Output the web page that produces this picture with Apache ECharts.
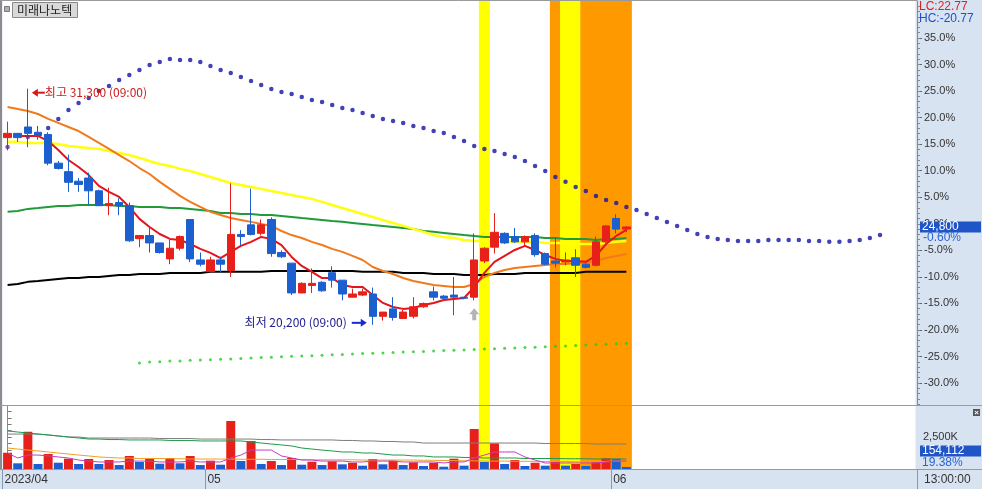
<!DOCTYPE html>
<html><head><meta charset="utf-8">
<script src="https://cdn.jsdelivr.net/npm/echarts@6/dist/echarts.min.js"></script>
<style>html,body{margin:0;padding:0;background:#fff}#c{width:982px;height:489px}</style>
</head><body><div id="c"></div>
<script>
// ---------------- data ----------------
const BASE = 24950;            // reference price for % scale
const SLOTS = 90;              // category slots across plot width
const opens  = [29000,29200,29500,29250,29150,27800,27400,26950,27100,26500,25800,25950,25800,24250,24400,24050,23300,23800,25150,23250,22700,23250,22750,24450,24900,24500,25150,23600,23100,21700,22050,22200,22650,22300,21500,21600,21650,20600,20950,20500,20600,21050,21750,21550,21600,21500,21500,23200,23850,24500,24350,24100,24400,23550,23200,23150,23350,23050,23000,24100,25200,24700];
const closes = [29200,29000,29200,29100,27800,27550,26900,26800,26500,25800,25900,25800,24150,24400,24050,23600,23800,24350,23300,23050,23250,23050,24450,24350,24450,24900,23550,23400,21700,22150,22150,21800,22300,21650,21650,21750,20600,20800,20550,20800,21050,21200,21500,21450,21500,21450,23250,23800,24550,24050,24100,24350,23500,23050,23100,23250,23000,22900,24100,24850,24700,24800];
const highs  = [29750,29200,31300,29550,29250,27900,28200,27100,27350,26550,26650,26150,25950,24400,24750,24050,24200,24400,25150,23600,23400,23400,26850,24650,26600,25150,25250,23700,23100,22200,22850,22250,22950,22300,21900,21900,21950,20800,21500,20900,21500,21250,22000,21600,22450,21500,24500,23850,25450,24550,24750,24400,24500,23600,24300,23600,23750,23100,24350,24900,25400,24850];
const lows   = [28400,28800,28550,28900,27700,27500,26450,26450,25850,25800,25350,25350,24100,23850,23600,23550,23050,23700,23150,22950,22700,22650,22450,23950,24400,24400,23400,23350,21600,21700,21700,21750,21950,21350,21500,21550,20200,20400,20400,20500,20500,21000,21350,21350,20650,21400,21350,23100,23550,24000,24050,23950,23400,23000,22900,23000,22450,22850,22950,24050,24500,24550];
const volumes = [1270000,445000,2910000,390000,1170000,490000,805000,390000,780000,390000,700000,310000,1015000,545000,805000,415000,860000,445000,1015000,310000,650000,335000,3750000,625000,2185000,390000,625000,310000,860000,335000,570000,310000,600000,365000,490000,260000,780000,365000,650000,310000,520000,235000,490000,180000,805000,260000,3125000,545000,2005000,390000,700000,235000,490000,260000,545000,260000,390000,235000,545000,835000,805000,154112];

const maRed    = [null,29080,29080,29080,28840,28420,27950,27620,27240,26730,26450,26210,25740,25180,24800,24470,24240,24190,24000,23770,23580,23340,23630,23910,24100,24330,24240,23950,23390,22970,22690,22400,22400,22070,21980,21980,21600,21230,21040,20950,20990,21130,21230,21370,21420,21460,21980,22640,23160,23440,23720,23910,23720,23480,23300,23200,23200,23160,23440,24000,24380,24660];
const maOrange = [30440,30350,30250,30110,29880,29690,29500,29310,29030,28750,28470,28180,27900,27570,27290,26920,26590,26260,25980,25740,25510,25360,25220,25130,25040,24940,24850,24610,24420,24280,24100,23950,23770,23630,23440,23250,22920,22730,22590,22400,22260,22170,22070,22030,21980,21980,22120,22450,22640,22780,22870,22920,22970,23010,23060,23060,23110,23110,23200,23340,23440,23530];
const maYellow = [28800,28800,28750,28750,28750,28700,28610,28560,28510,28470,28370,28280,28180,28040,27900,27760,27670,27530,27430,27290,27150,27010,26870,26770,26680,26590,26490,26400,26300,26210,26120,25980,25830,25690,25550,25410,25270,25130,24990,24850,24710,24570,24420,24330,24280,24190,24140,24140,24140,24100,24100,24100,24100,24050,24050,24050,24000,24000,24000,24050,24100,24140];
const maGreen  = [25510,25550,25650,25690,25740,25790,25790,25830,25830,25830,25830,25790,25790,25740,25740,25740,25690,25690,25650,25600,25550,25460,25460,25410,25410,25360,25360,25320,25270,25220,25180,25130,25080,25040,24990,24940,24890,24850,24800,24750,24710,24610,24570,24520,24470,24420,24380,24330,24330,24330,24330,24330,24330,24280,24280,24240,24240,24240,24190,24240,24240,24280];
const maBlack  = [22070,22120,22220,22260,22310,22360,22400,22400,22450,22450,22500,22540,22540,22590,22590,22590,22640,22640,22640,22640,22690,22690,22690,22690,22690,22690,22730,22730,22730,22730,22730,22730,22730,22730,22730,22690,22690,22690,22690,22640,22640,22640,22590,22590,22590,22540,22540,22540,22590,22590,22590,22640,22640,22640,22640,22640,22640,22690,22690,22690,22690,22690];

// leading dotted line (shifted forward, extends past last candle)
const blueDots = [null,null,null,null,29450,29880,30300,30630,30860,31190,31430,31710,31940,32180,32410,32560,32700,32650,32650,32560,32370,32180,32040,31850,31660,31470,31290,31150,31050,30910,30770,30680,30530,30390,30300,30160,30020,29880,29780,29690,29550,29450,29310,29220,29030,28840,28610,28470,28370,28230,28090,27900,27670,27430,27150,26920,26680,26490,26260,26070,25930,25740,25600,25410,25220,25030,24850,24660,24470,24330,24240,24190,24140,24140,24140,24190,24190,24190,24190,24140,24140,24100,24100,24140,24190,24280,24420];
const purpleDots = [[0,28560],[2,29030]];
const greenDots = [null,null,null,null,null,null,null,null,null,null,null,null,null,18410,18450,18460,18500,18500,18530,18550,18560,18580,18600,18620,18640,18660,18680,18700,18720,18740,18750,18770,18790,18810,18830,18850,18860,18880,18900,18920,18940,18950,18970,18990,19000,19020,19040,19060,19080,19100,19110,19130,19150,19170,19190,19210,19230,19250,19270,19290,19310,19340];

// volume moving averages (thousand shares)
const volMaGray    = [2730,2730,2730,2730,2660,2580,2500,2500,2420,2420,2420,2420,2420,2420,2420,2380,2380,2380,2380,2340,2340,2340,2340,2340,2340,2300,2300,2270,2270,2270,2270,2270,2270,2230,2230,2190,2190,2150,2150,2110,2110,2030,2030,2030,2030,2030,2030,2030,2030,2030,2030,2030,2030,1990,1990,1990,1990,1990,1950,1950,1950,1950];
const volMaGreen   = [2970,2890,2810,2730,2660,2580,2500,2420,2340,2340,2300,2300,2270,2270,2270,2270,2230,2230,2230,2190,2190,2190,2190,2190,2110,2030,1950,1880,1800,1640,1560,1480,1410,1330,1330,1250,1250,1170,1090,1090,1020,1020,940,940,940,900,900,860,860,860,860,820,820,820,820,800,800,800,780,780,780,780];
const volMaOrange  = [1640,1560,1480,1410,1330,1250,1170,1090,1020,940,900,860,860,820,820,820,800,800,780,780,780,780,780,760,760,760,740,740,740,740,720,720,720,720,720,700,700,700,700,700,700,680,680,660,660,640,640,620,620,620,600,600,600,580,580,580,560,560,560,600,620,640];
const volMaMagenta = [1250,860,1090,1090,1020,940,860,700,620,550,550,550,620,620,620,550,550,550,620,550,550,550,860,1090,1480,1480,1480,1020,860,700,700,620,620,620,550,550,620,620,620,550,550,550,550,470,550,550,860,1090,1330,1330,1330,940,700,470,470,470,470,470,470,550,620,620];

const pctTicks = [-30,-25,-20,-15,-10,-5,0,5,10,15,20,25,30,35];
const volTicks = [2500000];
const monthTicks = [{slot:0,label:'2023/04'},{slot:20,label:'05'},{slot:60,label:'06'}];
const yellowBands = [47,55,56];
const orangeBands = [54,57,58,59,60,61];

// ---------------- layout constants ----------------
const GL = 2.5, GW = 913;           // grid left / width
const PCT_MAX = 41.97, PCT_MIN = -34.14;
const VOL_MAX = 4921875;
const RED = '#e8201a', BLUE = '#1c5fcf';
const SLOT_W = GW / SLOTS;

const pct = p => (p == null ? null : (p / BASE - 1) * 100);
const cats = Array.from({length: SLOTS}, (_, i) => String(i));

const bandData = cats.map((_, i) => {
  if (yellowBands.includes(i)) return {value: 1, itemStyle: {color: '#ffff00'}};
  if (orangeBands.includes(i)) return {value: 1, itemStyle: {color: '#ff9900'}};
  return null;
});
const candleData = opens.map((o, i) => [pct(o), pct(closes[i]), pct(lows[i]), pct(highs[i])]);
const volData = volumes.map((v, i) => ({
  value: v,
  itemStyle: {color: (i === 0 || v >= volumes[i - 1]) ? RED : BLUE}
}));
const minorPct = [];
for (let v = -34; v <= 41; v++) minorPct.push(v);

const lineS = (data, color, width) => ({
  type: 'line', xAxisIndex: 0, yAxisIndex: 0, data: data.map(pct),
  showSymbol: false, symbol: 'none', silent: true, z: 3,
  lineStyle: {color, width}, connectNulls: false
});
const volLine = (data, color) => ({
  type: 'line', xAxisIndex: 1, yAxisIndex: 3, data: data.map(v => v * 1000),
  showSymbol: false, symbol: 'none', silent: true, z: 4, lineStyle: {color, width: 1}
});

const chart = echarts.init(document.getElementById('c'), null, {renderer: 'canvas', width: 982, height: 489});
const FONT = 'Liberation Sans';

chart.setOption({
  animation: false,
  backgroundColor: '#d8e3f1',
  grid: [
    {left: GL, top: 1, width: GW, height: 404, show: true, backgroundColor: '#ffffff', borderWidth: 0},
    {left: GL, top: 406, width: GW, height: 63, show: true, backgroundColor: '#ffffff', borderWidth: 0}
  ],
  xAxis: [
    {type: 'category', gridIndex: 0, data: cats, boundaryGap: true, show: false},
    {type: 'category', gridIndex: 1, data: cats, boundaryGap: true, show: false},
    {type: 'category', gridIndex: 0, data: cats, boundaryGap: true, show: false},
    {type: 'category', gridIndex: 1, data: cats, boundaryGap: true, show: false},
    {type: 'value', gridIndex: 1, min: -0.5, max: SLOTS - 0.5, position: 'bottom',
     axisLine: {show: false}, splitLine: {show: false},
     axisTick: {show: true, length: 20, customValues: monthTicks.map(m => m.slot - 0.5),
                lineStyle: {color: '#8898b0', width: 1}},
     axisLabel: {show: true, customValues: monthTicks.map(m => m.slot - 0.5), align: 'left',
                 margin: 5, color: '#333', fontFamily: FONT, fontSize: 12, padding: [0, 0, 0, 2],
                 formatter: v => { const m = monthTicks.find(t => Math.abs(t.slot - 0.5 - v) < 0.01); return m ? m.label : ''; }}}
  ],
  yAxis: [
    {type: 'value', gridIndex: 0, position: 'right', offset: 1.5, min: PCT_MIN, max: PCT_MAX,
     splitLine: {show: false},
     axisLine: {show: true, lineStyle: {color: '#8a8a8a'}},
     axisTick: {show: true, length: 5, customValues: pctTicks, lineStyle: {color: '#666'}},
     axisLabel: {show: true, customValues: pctTicks, margin: 7, color: '#333', fontFamily: FONT, fontSize: 11,
                 formatter: v => v.toFixed(1) + '%'}},
    {type: 'value', gridIndex: 0, position: 'right', offset: 1.5, min: PCT_MIN, max: PCT_MAX,
     splitLine: {show: false}, axisLine: {show: false}, axisLabel: {show: false},
     axisTick: {show: true, length: 3, customValues: minorPct, lineStyle: {color: '#888'}}},
    {type: 'value', gridIndex: 0, min: 0, max: 1, show: false},
    {type: 'value', gridIndex: 1, position: 'right', offset: 1.5, min: 0, max: VOL_MAX,
     splitLine: {show: false},
     axisLine: {show: true, lineStyle: {color: '#8a8a8a'}},
     axisTick: {show: true, length: 4, lineStyle: {color: '#777'},
                customValues: [0,500000,1000000,1500000,2000000,2500000,3000000,3500000,4000000,4500000]},
     axisLabel: {show: true, customValues: volTicks, margin: 6, color: '#333', fontFamily: FONT, fontSize: 11,
                 formatter: v => (v / 1000).toLocaleString('en-US') + 'K'}},
    {type: 'value', gridIndex: 1, min: 0, max: 1, show: false}
  ],
  series: [
    {type: 'bar', xAxisIndex: 2, yAxisIndex: 2, data: bandData, barWidth: SLOT_W + 0.8, silent: true, z: 1},
    {type: 'bar', xAxisIndex: 3, yAxisIndex: 4, data: bandData, barWidth: SLOT_W + 0.8, silent: true, z: 1},
    lineS(maBlack, '#000000', 2),
    lineS(maGreen, '#229a3a', 2),
    lineS(maYellow, '#ffff10', 2.5),
    lineS(maOrange, '#f07a1c', 2),
    {type: 'candlestick', xAxisIndex: 0, yAxisIndex: 0, data: candleData, barWidth: 8, z: 4, silent: true,
     itemStyle: {color: RED, color0: BLUE, borderColor: RED, borderColor0: BLUE, borderWidth: 1}},
    lineS(maRed, '#e4141c', 2),
    {type: 'scatter', xAxisIndex: 0, yAxisIndex: 0, symbol: 'circle', symbolSize: 4.5, silent: true, z: 5,
     itemStyle: {color: '#1212a6'},
     data: blueDots.map((v, i) => v == null ? null : [i, pct(v)]).filter(d => d)},
    {type: 'scatter', xAxisIndex: 0, yAxisIndex: 0, symbol: 'circle', symbolSize: 4.5, silent: true, z: 5,
     itemStyle: {color: '#6a2a9a'},
     data: purpleDots.map(d => [d[0], pct(d[1])])},
    {type: 'scatter', xAxisIndex: 0, yAxisIndex: 0, symbol: 'circle', symbolSize: 3, silent: true, z: 5,
     itemStyle: {color: '#22cc22'},
     data: greenDots.map((v, i) => v == null ? null : [i, pct(v)]).filter(d => d)},
    {type: 'bar', xAxisIndex: 1, yAxisIndex: 3, data: volData, barWidth: 9, silent: true, z: 3},
    volLine(volMaGray, '#7c7c7c'),
    volLine(volMaGreen, '#1e9a4a'),
    volLine(volMaOrange, '#f0a020'),
    volLine(volMaMagenta, '#c43cc4')
  ]
});

// ---------------- annotations (positioned through the chart's scales) ----------------
const px = (i, p) => chart.convertToPixel({xAxisIndex: 0, yAxisIndex: 0}, [i, pct(p)]);
const hiIdx = highs.indexOf(Math.max(...highs));
const loIdx = lows.indexOf(Math.min(...lows));
const hi = px(hiIdx, highs[hiIdx]);
const lo = px(loIdx, lows[loIdx]);
const sig = px(46, lows[46]);
const last = closes[closes.length - 1];
const lastY = chart.convertToPixel({yAxisIndex: 0}, pct(last));
const lastPct = (last / BASE - 1) * 100;
const KFONT = '"Noto Sans CJK KR"';
const AXX = 917;

const g = [
  {type: 'rect', shape: {x: 0, y: 0, width: 2, height: 470}, style: {fill: '#8c8c8c'}, z: 100},
  {type: 'line', shape: {x1: 0, y1: 0.5, x2: AXX, y2: 0.5}, style: {stroke: '#9a9a9a', lineWidth: 1}, z: 100},
  {type: 'line', shape: {x1: 0, y1: 405.5, x2: 982, y2: 405.5}, style: {stroke: '#9a9a9a', lineWidth: 1}, z: 100},
  {type: 'line', shape: {x1: 0, y1: 469.5, x2: 982, y2: 469.5}, style: {stroke: '#9a9a9a', lineWidth: 1}, z: 100},
  // title
  {type: 'rect', shape: {x: 4.5, y: 6.5, width: 5, height: 5}, style: {fill: '#b0b0b0', stroke: '#777', lineWidth: 1}, z: 100},
  {type: 'rect', shape: {x: 12.5, y: 2.5, width: 65, height: 15}, style: {fill: '#d9d9d9', stroke: '#8a8a8a', lineWidth: 1}, z: 100},
  {type: 'text', x: 17, y: 10, style: {text: '미래나노텍', font: '12px ' + KFONT, fill: '#222', textVerticalAlign: 'middle'}, z: 101},
  // LC / HC
  {type: 'text', x: 919, y: 7, style: {text: 'LC:22.77', font: '12px ' + FONT, fill: '#e02020', textVerticalAlign: 'middle'}, z: 101},
  {type: 'text', x: 919, y: 19, style: {text: 'HC:-20.77', font: '12px ' + FONT, fill: '#1e50c8', textVerticalAlign: 'middle'}, z: 101},
  // high annotation
  {type: 'polygon', shape: {points: [[hi[0] + 4, hi[1] + 4], [hi[0] + 10, hi[1]], [hi[0] + 10, hi[1] + 8]]}, style: {fill: '#d41a1a'}, z: 101},
  {type: 'line', shape: {x1: hi[0] + 9, y1: hi[1] + 4, x2: hi[0] + 17, y2: hi[1] + 4}, style: {stroke: '#d41a1a', lineWidth: 2}, z: 101},
  {type: 'text', x: hi[0] + 17, y: hi[1] + 4, style: {text: '최고 ' + highs[hiIdx].toLocaleString('en-US') + ' (09:00)', font: '12px ' + KFONT, fill: '#cc1c1c', textVerticalAlign: 'middle'}, z: 101},
  // low annotation
  {type: 'polygon', shape: {points: [[lo[0] - 6, lo[1] - 2], [lo[0] - 12, lo[1] - 6], [lo[0] - 12, lo[1] + 2]]}, style: {fill: '#1a2ad0'}, z: 101},
  {type: 'line', shape: {x1: lo[0] - 21, y1: lo[1] - 2, x2: lo[0] - 11, y2: lo[1] - 2}, style: {stroke: '#1a2ad0', lineWidth: 2}, z: 101},
  {type: 'text', x: lo[0] - 26, y: lo[1] - 2, style: {text: '최저 ' + lows[loIdx].toLocaleString('en-US') + ' (09:00)', font: '12px ' + KFONT, fill: '#1c1c8c', textAlign: 'right', textVerticalAlign: 'middle'}, z: 101},
  // signal arrow
  {type: 'polygon', shape: {points: [[sig[0], sig[1] + 8], [sig[0] - 5, sig[1] + 14], [sig[0] - 2, sig[1] + 14], [sig[0] - 2, sig[1] + 20], [sig[0] + 2, sig[1] + 20], [sig[0] + 2, sig[1] + 14], [sig[0] + 5, sig[1] + 14]]}, style: {fill: '#b4b4b4'}, z: 101},
  // last price box
  {type: 'rect', shape: {x: 920, y: lastY - 5.5, width: 61, height: 11}, style: {fill: '#1f55c6'}, z: 101},
  {type: 'text', x: 922, y: lastY, style: {text: last.toLocaleString('en-US'), font: '12px ' + FONT, fill: '#fff', textVerticalAlign: 'middle'}, z: 102},
  {type: 'text', x: 923, y: lastY + 11, style: {text: lastPct.toFixed(2) + '%', font: '12px ' + FONT, fill: '#2a62d4', textVerticalAlign: 'middle'}, z: 102},
  // volume last box
  {type: 'rect', shape: {x: 920, y: 445.5, width: 61, height: 11}, style: {fill: '#1f55c6'}, z: 101},
  {type: 'text', x: 922, y: 451, style: {text: volumes[volumes.length - 1].toLocaleString('en-US'), font: '12px ' + FONT, fill: '#fff', textVerticalAlign: 'middle'}, z: 102},
  {type: 'text', x: 922, y: 462.5, style: {text: '19.38%', font: '12px ' + FONT, fill: '#2a62d4', textVerticalAlign: 'middle'}, z: 102},
  // close icon
  {type: 'rect', shape: {x: 973, y: 409, width: 7, height: 7}, style: {fill: '#555'}, z: 101},
  {type: 'text', x: 976.5, y: 412.5, style: {text: '×', font: 'bold 8px ' + FONT, fill: '#fff', textAlign: 'center', textVerticalAlign: 'middle'}, z: 102},
  // time in strip
  {type: 'line', shape: {x1: AXX + 0.5, y1: 470, x2: AXX + 0.5, y2: 489}, style: {stroke: '#8898b0', lineWidth: 1}, z: 100},
  {type: 'text', x: 924, y: 480, style: {text: '13:00:00', font: '12px ' + FONT, fill: '#333', textVerticalAlign: 'middle'}, z: 101}
];
chart.setOption({graphic: g});
</script>
</body></html>
